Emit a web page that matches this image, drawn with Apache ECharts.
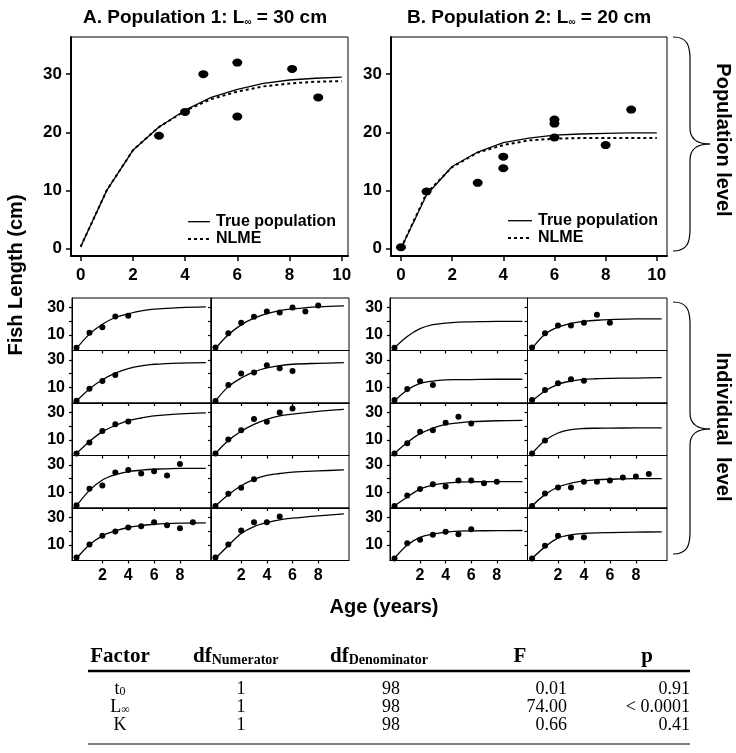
<!DOCTYPE html>
<html>
<head>
<meta charset="utf-8">
<script src="https://cdn.jsdelivr.net/npm/echarts@6/dist/echarts.min.js"></script>
<style>html,body{margin:0;background:#fff}#chart{width:736px;height:753px}</style>
</head>
<body>
<div id="chart"></div>
<script>
const sans = '"Liberation Sans", Arial, sans-serif';
const serif = '"Liberation Serif", "Times New Roman", serif';

// population-level panels
const popAges = [0, 1, 2, 3, 4, 5, 6, 7, 8, 9, 10];
const pop1True = [0.3, 10, 16.9, 20.9, 23.8, 26.0, 27.4, 28.4, 29.0, 29.3, 29.5];
const pop1Nlme = [0.3, 10, 16.9, 20.9, 23.7, 25.7, 27.0, 27.9, 28.4, 28.7, 28.8];
const pop1ObsAge = [3, 4, 4.7, 6, 6, 8.1, 9.1];
const pop1ObsLen = [19.4, 23.5, 30, 32, 22.7, 30.9, 26];
const pop2True = [0, 9.2, 14.1, 16.6, 18.2, 19.0, 19.5, 19.7, 19.8, 19.9, 19.9];
const pop2Nlme = [0, 9.5, 14.0, 16.5, 17.8, 18.6, 18.9, 19.0, 19.0, 19.0, 19.0];
const pop2ObsAge = [0, 1, 3, 4, 4, 6, 6, 6, 8, 9];
const pop2ObsLen = [0.2, 9.8, 11.3, 15.8, 13.8, 22.2, 21.5, 19.1, 17.8, 23.9];

// individual-level panels: fitted curve at fitAges, observations at ages 0,1,2,...
const fitAges = [0, 1, 2, 3, 4, 5, 6, 8, 10];
const pop1Fits = [
  [0, 10.5, 17.8, 22.7, 25.4, 27.6, 28.8, 30, 30.5],
  [0, 10, 17.3, 22.2, 25.6, 27.8, 29, 30.5, 31.2],
  [0, 8.8, 15.5, 20.4, 23.7, 25.7, 26.9, 27.8, 28.1],
  [0, 10.5, 16.8, 21.3, 24.2, 25.9, 26.9, 27.6, 28.1],
  [0, 8.8, 16, 20.5, 24, 26, 27.5, 29, 29.8],
  [0, 9.5, 16.3, 21.3, 25, 27.5, 28.8, 30.8, 32.3],
  [0, 11.4, 19, 22.9, 25.2, 26.2, 26.9, 27.6, 27.6],
  [0, 8.3, 14.8, 19.5, 22.4, 23.8, 24.8, 25.7, 26.4],
  [0, 10, 16.6, 20.2, 22.7, 24.1, 25.1, 25.9, 26.1],
  [0, 9.5, 18.3, 23.4, 26.3, 28.3, 29.5, 31.2, 32.7]
];
const pop1Obs = [
  [0.5, 11.5, 15.5, 23.5, 24],
  [0.7, 11.2, 18.8, 23.2, 27.1, 26.3, 30, 27.1, 31.5],
  [0.1, 9, 14.6, 19],
  [0, 11.7, 20.1, 20.8, 26.1, 24, 22],
  [0, 8, 16.5, 21.5, 23.5],
  [0, 10.3, 17, 25.3, 23.3, 30, 33],
  [0.5, 12.6, 15, 24.5, 26.4, 23.8, 25.5, 22.4, 30.7],
  [0, 9, 13.3, 19.5],
  [0.7, 10.2, 16.6, 19.8, 22.7, 23.7, 26.6, 24.4, 22.2, 26.6],
  [0.7, 10.2, 20.5, 26.6, 26.6, 30.7]
];
const pop2Fits = [
  [0.5, 8.8, 14.5, 17.4, 18.6, 19.3, 19.5, 19.8, 19.8],
  [0, 10.5, 15.7, 18.3, 19.8, 20.7, 21.2, 21.7, 21.7],
  [0, 8, 12.9, 14.6, 15.4, 15.6, 15.7, 15.9, 15.9],
  [0, 7.3, 12.2, 14.6, 15.9, 16.3, 16.6, 16.8, 17.1],
  [0, 8, 14.5, 18.5, 21.3, 22.5, 23.3, 24, 24.3],
  [0, 9.5, 15, 17.5, 18.3, 18.5, 18.6, 18.7, 18.8],
  [0, 6.6, 12.4, 15.3, 16.7, 17.5, 17.7, 17.9, 17.9],
  [0, 8.3, 13.9, 16.7, 18.4, 19.2, 19.6, 20.1, 20.1],
  [0, 9.8, 15.4, 17.8, 19.3, 20, 20.2, 20.4, 20.5],
  [0, 8.5, 14.9, 17.3, 18.3, 18.8, 19, 19.3, 19.5]
];
const pop2Obs = [
  [0.5],
  [0.7, 11.2, 16.9, 16.9, 18.8, 24.8, 18.8],
  [0.7, 8.8, 14.4, 11.7],
  [0.7, 8, 12.9, 15.9, 14.9],
  [0, 7.5, 16, 17, 22.5, 27, 22],
  [0, 9.5],
  [0, 7.6, 12.4, 16, 14.3, 18.7, 18.7, 16.7, 17.7],
  [0, 9.2, 13.5, 13.5, 17.7, 17.7, 18.7, 20.8, 21.6, 23.5],
  [0, 11.2, 13.7, 17.3, 19.5, 17.8, 21.5],
  [0, 9.3, 16.6, 15.4, 15.6]
];

const topXTicks = [0, 2, 4, 6, 8, 10];
const topYTicks = [0, 10, 20, 30];
const indXTicks = [2, 4, 6, 8];
const indYTicks = [10, 20, 30];
const indYLabels = [10, 30];

// table
const tableFactor = ['{n|t}{s|0}', '{n|L}{s|∞}', '{n|K}'];
const tableDfNum = ['1', '1', '1'];
const tableDfDen = ['98', '98', '98'];
const tableF = ['0.01', '74.00', '0.66'];
const tableP = ['0.91', '< 0.0001', '0.41'];

const grids = [], xAxes = [], yAxes = [], series = [];
const black = '#000';

function addGrid(box) {
  grids.push({left: box[0], top: box[1], width: box[2], height: box[3], show: true,
    borderColor: black, borderWidth: 1, backgroundColor: 'transparent'});
  return grids.length - 1;
}

function addTop(box, xr, trueY, nlmeY, obsX, obsY) {
  const i = addGrid(box);
  xAxes.push({gridIndex: i, type: 'value', min: xr[0], max: xr[1],
    axisLine: {onZero: false, lineStyle: {color: black, width: 2}},
    axisTick: {customValues: topXTicks, length: 5, lineStyle: {color: black, width: 1.5}},
    axisLabel: {customValues: topXTicks, margin: 11, color: black, fontWeight: 'bold', fontSize: 17, fontFamily: sans},
    splitLine: {show: false}});
  yAxes.push({gridIndex: i, type: 'value', min: -1.3, max: 36.4,
    axisLine: {onZero: false, lineStyle: {color: black, width: 2}},
    axisTick: {customValues: topYTicks, length: 5, lineStyle: {color: black, width: 1.5}},
    axisLabel: {customValues: topYTicks, margin: 9, color: black, fontWeight: 'bold', fontSize: 17, fontFamily: sans},
    splitLine: {show: false}});
  series.push({type: 'line', xAxisIndex: i, yAxisIndex: i, data: popAges.map((a, k) => [a, trueY[k]]),
    symbol: 'none', lineStyle: {color: black, width: 1.3}, silent: true});
  series.push({type: 'line', xAxisIndex: i, yAxisIndex: i, data: popAges.map((a, k) => [a, nlmeY[k]]),
    symbol: 'none', lineStyle: {color: black, width: 2, type: [3, 3]}, silent: true});
  series.push({type: 'scatter', xAxisIndex: i, yAxisIndex: i, data: obsX.map((a, k) => [a, obsY[k]]),
    symbol: 'circle', symbolSize: [10, 8], itemStyle: {color: black, opacity: 1}, z: 5});
}

function addInd(box, fit, obs, showY, showX) {
  const i = addGrid(box);
  xAxes.push({gridIndex: i, type: 'value', min: -0.35, max: 10.4,
    axisLine: {onZero: false, lineStyle: {color: black, width: 1}},
    axisTick: {customValues: indXTicks, length: 3, lineStyle: {color: black, width: 1.2}},
    axisLabel: {show: showX, customValues: indXTicks, margin: 7, color: black, fontWeight: 'bold', fontSize: 16, fontFamily: sans},
    splitLine: {show: false}});
  yAxes.push({gridIndex: i, type: 'value', min: -1.5, max: 37,
    axisLine: {onZero: false, lineStyle: {color: black, width: 1}},
    axisTick: {customValues: indYTicks, length: 3, lineStyle: {color: black, width: 1.2}},
    axisLabel: {show: showY, customValues: indYLabels, margin: 7, color: black, fontWeight: 'bold', fontSize: 16, fontFamily: sans},
    splitLine: {show: false}});
  series.push({type: 'line', xAxisIndex: i, yAxisIndex: i, data: fitAges.map((a, k) => [a, fit[k]]),
    symbol: 'none', smooth: 0.35, lineStyle: {color: black, width: 1.3}, silent: true});
  series.push({type: 'scatter', xAxisIndex: i, yAxisIndex: i, data: obs.map((v, k) => [k, v]),
    symbol: 'circle', symbolSize: 6, itemStyle: {color: black, opacity: 1}, z: 5});
}

addTop([71, 37, 277, 219], [-0.37, 10.24], pop1True, pop1Nlme, pop1ObsAge, pop1ObsLen);
addTop([391, 37, 276, 219], [-0.39, 10.4], pop2True, pop2Nlme, pop2ObsAge, pop2ObsLen);

const rowTops = [298, 350.5, 403, 455.5, 508];
const rowH = 52.5;
const colBoxes = [[72, 139], [211, 138], [390, 137.5], [527.5, 139.5]];
for (let r = 0; r < 5; r++) {
  for (let c = 0; c < 2; c++) {
    const k = r * 2 + c;
    const b1 = colBoxes[c], b2 = colBoxes[c + 2];
    addInd([b1[0], rowTops[r], b1[1], rowH], pop1Fits[k], pop1Obs[k], c === 0, r === 4);
    addInd([b2[0], rowTops[r], b2[1], rowH], pop2Fits[k], pop2Obs[k], c === 0, r === 4);
  }
}

// helpers for graphic text / lines
function txt(x, y, text, o) {
  o = o || {};
  return {type: 'text', x: x, y: y, rotation: o.rot || 0, silent: true, z: 10,
    style: {text: text, fill: black, font: o.font, rich: o.rich,
      align: o.align || 'center', verticalAlign: o.va || 'middle',
      textAlign: o.align || 'center', textVerticalAlign: o.va || 'middle'}};
}
function seg(x1, y1, x2, y2, w, dash) {
  return {type: 'line', silent: true, shape: {x1, y1, x2, y2},
    style: {stroke: black, lineWidth: w || 1, lineDash: dash || null}};
}
function bez(x1, y1, c1x, c1y, c2x, c2y, x2, y2) {
  return {type: 'bezierCurve', silent: true,
    shape: {x1, y1, x2, y2, cpx1: c1x, cpy1: c1y, cpx2: c2x, cpy2: c2y},
    style: {stroke: black, lineWidth: 1.2, fill: null}};
}
function brace(top, mid, bottom) {
  const x0 = 673, xv = 690, xt = 710;
  return [
    bez(x0, top, x0 + 14, top, xv, top + 8, xv, top + 22),
    seg(xv, top + 22, xv, mid - 16, 1.2),
    bez(xv, mid - 16, xv, mid - 5, xv + 8, mid, xt, mid),
    bez(xt, mid, xv + 8, mid, xv, mid + 5, xv, mid + 16),
    seg(xv, mid + 16, xv, bottom - 22, 1.2),
    bez(xv, bottom - 22, xv, bottom - 8, x0 + 14, bottom, x0, bottom)
  ];
}

const titleRich = {
  b: {fontFamily: sans, fontWeight: 'bold', fontSize: 19, fill: black, color: black},
  s: {fontFamily: sans, fontWeight: 'bold', fontSize: 10, fill: black, color: black, verticalAlign: 'bottom'}
};
const hdRich = {
  h: {fontFamily: serif, fontWeight: 'bold', fontSize: 21, fill: black, color: black},
  s: {fontFamily: serif, fontWeight: 'bold', fontSize: 14, fill: black, color: black, verticalAlign: 'bottom'}
};
const rowRich = {
  n: {fontFamily: serif, fontSize: 18, fill: black, color: black},
  s: {fontFamily: serif, fontSize: 12, fill: black, color: black, verticalAlign: 'bottom'}
};

const graphics = [
  txt(205, 18, '{b|A. Population 1: L}{s|∞}{b| = 30 cm}', {rich: titleRich}),
  txt(529, 18, '{b|B. Population 2: L}{s|∞}{b| = 20 cm}', {rich: titleRich}),
  txt(16, 275, 'Fish Length (cm)', {font: 'bold 20px ' + sans, rot: Math.PI / 2}),
  txt(384, 607, 'Age (years)', {font: 'bold 20px ' + sans}),
  txt(723, 140, 'Population level', {font: 'bold 20px ' + sans, rot: -Math.PI / 2}),
  txt(723, 427, 'Individual  level', {font: 'bold 20px ' + sans, rot: -Math.PI / 2}),
  // legends
  seg(188, 221.7, 210, 221.7, 1.3),
  txt(216, 221.7, 'True population', {font: 'bold 16px ' + sans, align: 'left'}),
  seg(188, 239, 210, 239, 2, [3, 3]),
  txt(216, 239, 'NLME', {font: 'bold 16px ' + sans, align: 'left'}),
  seg(508, 220.7, 532, 220.7, 1.3),
  txt(538, 220.7, 'True population', {font: 'bold 16px ' + sans, align: 'left'}),
  seg(508, 238, 532, 238, 2, [3, 3]),
  txt(538, 238, 'NLME', {font: 'bold 16px ' + sans, align: 'left'}),
  // table
  txt(120, 657, '{h|Factor}', {rich: hdRich}),
  txt(193, 657, '{h|df}{s|Numerator}', {rich: hdRich, align: 'left'}),
  txt(330, 657, '{h|df}{s|Denominator}', {rich: hdRich, align: 'left'}),
  txt(520, 657, '{h|F}', {rich: hdRich}),
  txt(647, 657, '{h|p}', {rich: hdRich}),
  seg(88, 671, 690, 671, 2.5),
  seg(88, 744, 690, 744, 1.2)
].concat(brace(37, 144, 251), brace(302, 429, 554));

const rowYs = [689, 707, 725];
rowYs.forEach((y, k) => {
  graphics.push(txt(120, y, tableFactor[k], {rich: rowRich}));
  graphics.push(txt(241, y, tableDfNum[k], {font: '18px ' + serif}));
  graphics.push(txt(391, y, tableDfDen[k], {font: '18px ' + serif}));
  graphics.push(txt(567, y, tableF[k], {font: '18px ' + serif, align: 'right'}));
  graphics.push(txt(690, y, tableP[k], {font: '18px ' + serif, align: 'right'}));
});

const chart = echarts.init(document.getElementById('chart'));
chart.setOption({
  animation: false,
  backgroundColor: '#fff',
  grid: grids,
  xAxis: xAxes,
  yAxis: yAxes,
  series: series,
  graphic: {elements: graphics}
});
</script>
</body>
</html>
